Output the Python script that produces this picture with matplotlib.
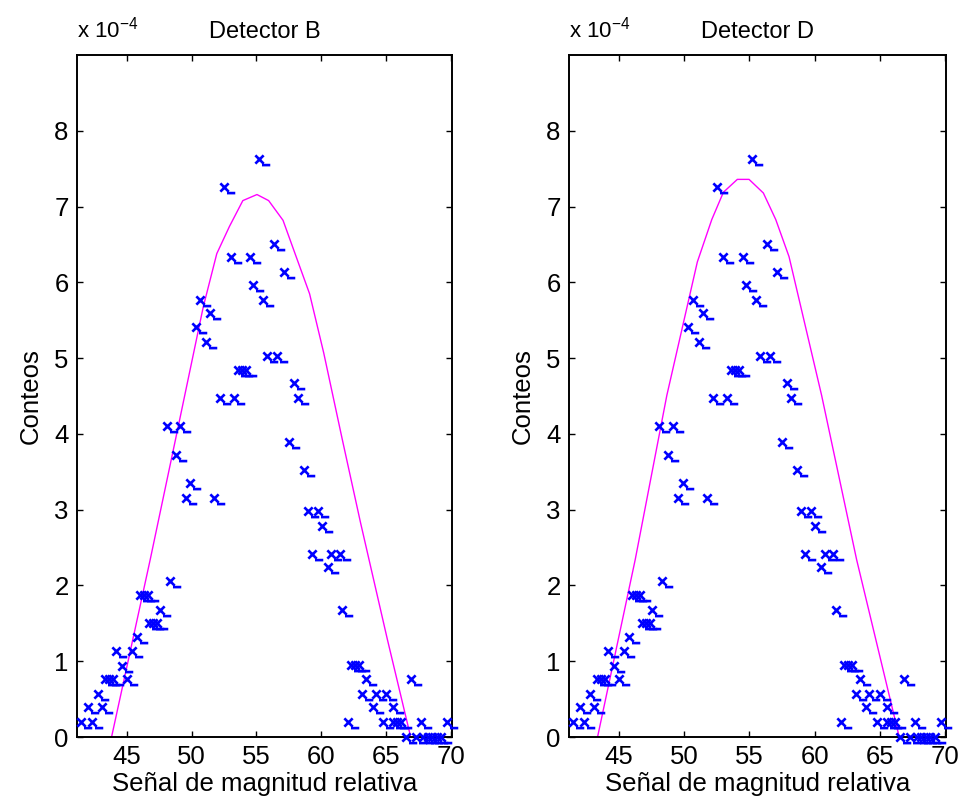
import matplotlib
matplotlib.use("Agg")
import matplotlib.pyplot as plt
from matplotlib.path import Path

# measured points (same histogram on both detectors), y in units of 1e-4
x_pts = [41.49, 42.01, 42.31, 42.78, 43.09, 43.33, 43.63, 43.93, 44.17, 44.64,
         44.98, 45.39, 45.75, 46.02, 46.32, 46.62, 46.74, 47.04, 47.34, 47.55,
         48.07, 48.30, 48.77, 49.10, 49.54, 49.88, 50.32, 50.65, 51.09, 51.42,
         51.73, 52.20, 52.51, 53.00, 53.28, 53.58, 53.88, 54.18, 54.52, 54.75,
         55.16, 55.47, 55.81, 56.38, 56.59, 57.15, 57.48, 57.87, 58.20, 58.65,
         58.99, 59.29, 59.73, 60.07, 60.53, 60.77, 61.41, 61.62, 62.05, 62.29,
         62.59, 62.89, 63.16, 63.47, 63.96, 64.20, 64.76, 65.02, 65.56, 65.57,
         65.87, 66.17, 66.56, 66.90, 67.29, 67.68, 67.85, 68.20, 68.55, 68.90,
         69.25, 69.69]
y_pts = [0.20, 0.39, 0.20, 0.57, 0.39, 0.76, 0.76, 0.76, 1.13, 0.94,
         0.76, 1.13, 1.32, 1.87, 1.87, 1.87, 1.51, 1.51, 1.51, 1.68,
         4.11, 2.06, 3.72, 4.11, 3.16, 3.35, 5.41, 5.77, 5.22, 5.59,
         3.16, 4.48, 7.26, 6.33, 4.48, 4.85, 4.85, 4.85, 6.33, 5.96,
         7.63, 5.77, 5.03, 6.51, 5.03, 6.14, 3.90, 4.67, 4.48, 3.53,
         2.98, 2.41, 2.98, 2.79, 2.24, 2.41, 2.41, 1.68, 0.20, 0.95,
         0.95, 0.95, 0.57, 0.76, 0.40, 0.57, 0.20, 0.57, 0.40, 0.20,
         0.20, 0.20, 0.00, 0.76, 0.00, 0.20, 0.00, 0.00, 0.00, 0.00,
         0.00, 0.20]

# fitted curves
fit_b_x = [43.82, 46.80, 48.77, 50.90, 51.94, 52.92, 53.95, 55.04, 55.94,
           57.05, 58.00, 59.10, 60.19, 61.62, 63.03, 65.10, 66.90]
fit_b_y = [0.00, 2.34, 3.94, 5.68, 6.38, 6.74, 7.08, 7.16, 7.08,
           6.82, 6.37, 5.85, 5.07, 3.93, 2.83, 1.29, 0.00]
fit_d_x = [43.34, 46.23, 48.66, 51.00, 52.11, 53.00, 54.07, 54.97, 56.07,
           57.02, 58.04, 60.54, 63.23, 66.50]
fit_d_y = [0.00, 2.34, 4.51, 6.27, 6.83, 7.19, 7.36, 7.36, 7.18,
           6.83, 6.34, 4.51, 2.34, 0.00]

titles = ["Detector B", "Detector D"]
x_ticks = [45, 50, 55, 60, 65, 70]
y_ticks = [0, 1, 2, 3, 4, 5, 6, 7, 8]

plt.rcParams["font.family"] = ["Liberation Sans", "DejaVu Sans"]
plt.rcParams["mathtext.fontset"] = "custom"
plt.rcParams["mathtext.rm"] = "Liberation Sans"
plt.rcParams["font.size"] = 18.5

# "x_" style marker
mk = Path([(-1, -1), (1, 1), (-1, 1), (1, -1), (0.6, -1.35), (2.6, -1.35)],
          [Path.MOVETO, Path.LINETO, Path.MOVETO, Path.LINETO, Path.MOVETO, Path.LINETO])


def main():
    fig = plt.figure(figsize=(9.62, 8.06), dpi=100)
    boxes = [[0.080, 0.0856, 0.390, 0.846], [0.5915, 0.0856, 0.392, 0.846]]
    fits = [(fit_b_x, fit_b_y), (fit_d_x, fit_d_y)]

    for box, title, (fx, fy) in zip(boxes, titles, fits):
        ax = fig.add_axes(box)
        ax.plot(x_pts, y_pts, linestyle="none", marker=mk, markersize=15.5,
                markeredgecolor="#0000ff", markerfacecolor="none",
                markeredgewidth=1.9, clip_on=False, zorder=3)
        ax.plot(fx, fy, color="#ff00ff", lw=1.0, zorder=2)

        ax.set_xlim(41.15, 70.1)
        ax.set_ylim(0, 9)
        ax.set_xticks(x_ticks)
        ax.set_yticks(y_ticks)
        ax.tick_params(direction="in", top=True, right=True, length=4,
                       width=1, pad=6)
        for s in ax.spines.values():
            s.set_linewidth(1.4)

        ax.set_title(title, fontsize=17, pad=12)
        ax.text(0, 1.018, r"x 10$^{-4}$", transform=ax.transAxes,
                ha="left", va="bottom", fontsize=16)
        ax.set_xlabel("Señal de magnitud relativa", labelpad=2)
        ax.set_ylabel("Conteos", labelpad=8)

    fig.savefig("out.png", dpi=100)


if __name__ == "__main__":
    main()
